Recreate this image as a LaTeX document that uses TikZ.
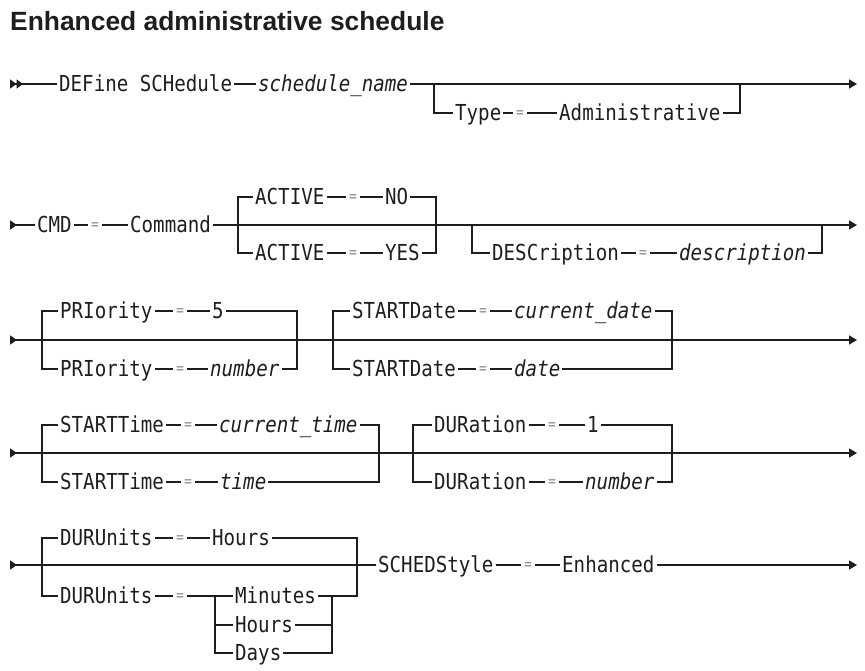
\documentclass[tikz,border=0pt]{standalone}
\usepackage{fontspec}
\usetikzlibrary{arrows.meta, positioning}
\newfontfamily\kwfamily[FakeStretch=0.87]{DejaVu Sans Mono}
\newfontfamily\headfamily{Liberation Sans}
\definecolor{ink}{HTML}{1E1E1E}
\definecolor{eqgray}{HTML}{8A8A8A}

\tikzset{
  kw/.style={font=\kwfamily\fontsize{22}{22}\selectfont, text=ink, inner xsep=2pt, inner ysep=0pt, text height=14pt, text depth=0pt, anchor=west},
  var/.style={kw, font=\kwfamily\itshape\fontsize{22}{22}\selectfont},
  eq/.style={font=\kwfamily\fontsize{15}{15}\selectfont, text=eqgray, inner xsep=3pt, inner ysep=0pt, text height=9.5pt, text depth=0pt, anchor=center},
  rail/.style={draw=ink, line width=1.5pt},
  go/.style={-{Triangle[length=8pt,width=9pt]}},
  come/.style={{Triangle[reversed,length=7pt,width=9pt]}-},
  both/.style={{Triangle[reversed,length=7pt,width=9pt]}-{Triangle[length=8pt,width=9pt]}},
}

\begin{document}
\begin{tikzpicture}[x=1pt, y=-1pt]
  \fill[white] (0,0) rectangle (865,670);
  \useasboundingbox (0,0) rectangle (865,670);

  \node[anchor=base west, inner sep=0pt, text=ink, font=\headfamily\bfseries\fontsize{26.4}{26.4}\selectfont] (title) at (10,30) {Enhanced administrative schedule};

  % row 1
  \coordinate (r1s) at (10,84);
  \coordinate (r1e) at (857,84);
  \coordinate (t1a) at (434,84);
  \coordinate (t1b) at (740,84);
  \node[kw] (define) at (57,84) {DEFine SCHedule};
  \node[var] (sname) at (256,84) {schedule\_name};
  \node[kw] (type) at (453,113) {Type};
  \node[eq] (typeeq) at (520,113) {=};
  \node[kw] (admin) at (557,113) {Administrative};
  \draw[rail, {Triangle[reversed,length=6.5pt,width=9pt] Triangle[reversed,length=6.5pt,width=9pt]}-] (r1s) -- (define);
  \draw[rail] (define) -- (sname);
  \draw[rail, go] (sname) -- (r1e);
  \draw[rail] (t1a) |- (type) -- (typeeq) -- (admin) -| (t1b);

  % row 2
  \coordinate (r2s) at (10,225);
  \coordinate (r2e) at (857,225);
  \coordinate (a2a) at (238,225);
  \coordinate (a2b) at (436,225);
  \coordinate (d2a) at (472,225);
  \coordinate (d2b) at (822,225);
  \node[kw] (cmd) at (35,225) {CMD};
  \node[eq] (cmdeq) at (95,225) {=};
  \node[kw] (command) at (128,225) {Command};
  \node[kw] (actno) at (253,197) {ACTIVE};
  \node[eq] (actnoeq) at (353,197) {=};
  \node[kw] (no) at (383,197) {NO};
  \node[kw] (actyes) at (253,253) {ACTIVE};
  \node[eq] (actyeseq) at (353,253) {=};
  \node[kw] (yes) at (383,253) {YES};
  \node[kw] (desc) at (490,253) {DESCription};
  \node[eq] (desceq) at (643,253) {=};
  \node[var] (descv) at (677,253) {description};
  \draw[rail, come] (r2s) -- (cmd);
  \draw[rail] (cmd) -- (cmdeq) -- (command);
  \draw[rail, go] (command) -- (r2e);
  \draw[rail] (a2a) |- (actno) -- (actnoeq) -- (no) -| (a2b);
  \draw[rail] (a2a) |- (actyes) -- (actyeseq) -- (yes) -| (a2b);
  \draw[rail] (d2a) |- (desc) -- (desceq) -- (descv) -| (d2b);

  % row 3
  \coordinate (r3s) at (10,340);
  \coordinate (r3e) at (857,340);
  \coordinate (p3a) at (42,340);
  \coordinate (p3b) at (297,340);
  \coordinate (s3a) at (333,340);
  \coordinate (s3b) at (672,340);
  \node[kw] (prifive) at (58,311) {PRIority};
  \node[eq] (prifiveeq) at (180,311) {=};
  \node[kw] (five) at (210,311) {5};
  \node[kw] (prinum) at (58,369) {PRIority};
  \node[eq] (prinumeq) at (180,369) {=};
  \node[var] (pnumber) at (208,369) {number};
  \node[kw] (sdcur) at (350,311) {STARTDate};
  \node[eq] (sdcureq) at (483,311) {=};
  \node[var] (curdate) at (512,311) {current\_date};
  \node[kw] (sddate) at (350,369) {STARTDate};
  \node[eq] (sddateeq) at (483,369) {=};
  \node[var] (date) at (512,369) {date};
  \draw[rail, both] (r3s) -- (r3e);
  \draw[rail] (p3a) |- (prifive) -- (prifiveeq) -- (five) -| (p3b);
  \draw[rail] (p3a) |- (prinum) -- (prinumeq) -- (pnumber) -| (p3b);
  \draw[rail] (s3a) |- (sdcur) -- (sdcureq) -- (curdate) -| (s3b);
  \draw[rail] (s3a) |- (sddate) -- (sddateeq) -- (date) -| (s3b);

  % row 4
  \coordinate (r4s) at (10,453);
  \coordinate (r4e) at (857,453);
  \coordinate (q4a) at (42,453);
  \coordinate (q4b) at (379,453);
  \coordinate (u4a) at (413,453);
  \coordinate (u4b) at (672,453);
  \node[kw] (stcur) at (58,425) {STARTTime};
  \node[eq] (stcureq) at (188,425) {=};
  \node[var] (curtime) at (217,425) {current\_time};
  \node[kw] (sttime) at (58,482) {STARTTime};
  \node[eq] (sttimeeq) at (188,482) {=};
  \node[var] (time) at (218,482) {time};
  \node[kw] (durone) at (432,425) {DURation};
  \node[eq] (duroneeq) at (552,425) {=};
  \node[kw] (one) at (585,425) {1};
  \node[kw] (durnum) at (432,482) {DURation};
  \node[eq] (durnumeq) at (552,482) {=};
  \node[var] (dnumber) at (583,482) {number};
  \draw[rail, both] (r4s) -- (r4e);
  \draw[rail] (q4a) |- (stcur) -- (stcureq) -- (curtime) -| (q4b);
  \draw[rail] (q4a) |- (sttime) -- (sttimeeq) -- (time) -| (q4b);
  \draw[rail] (u4a) |- (durone) -- (duroneeq) -- (one) -| (u4b);
  \draw[rail] (u4a) |- (durnum) -- (durnumeq) -- (dnumber) -| (u4b);

  % row 5
  \coordinate (r5s) at (10,565);
  \coordinate (r5e) at (857,565);
  \coordinate (v5a) at (42,565);
  \coordinate (v5b) at (357,565);
  \coordinate (m5a) at (215,596);
  \coordinate (m5b) at (332,596);
  \node[kw] (duhours) at (58,538) {DURUnits};
  \node[eq] (duhourseq) at (180,538) {=};
  \node[kw] (hours) at (210,538) {Hours};
  \node[kw] (dulist) at (58,596) {DURUnits};
  \node[eq] (dulisteq) at (180,596) {=};
  \node[kw] (minutes) at (233,596) {Minutes};
  \node[kw] (hourstoo) at (233,625) {Hours};
  \node[kw] (days) at (233,653) {Days};
  \node[kw] (sched) at (376,565) {SCHEDStyle};
  \node[eq] (schedeq) at (528,565) {=};
  \node[kw] (enhanced) at (560,565) {Enhanced};
  \draw[rail, come] (r5s) -- (sched);
  \draw[rail] (sched) -- (schedeq) -- (enhanced);
  \draw[rail, go] (enhanced) -- (r5e);
  \draw[rail] (v5a) |- (duhours) -- (duhourseq) -- (hours) -| (v5b);
  \draw[rail] (v5a) |- (dulist) -- (dulisteq) -- (m5a) -- (minutes) -- (m5b) -| (v5b);
  \draw[rail] (m5a) |- (hourstoo) -| (m5b);
  \draw[rail] (m5a) |- (days) -| (m5b);
\end{tikzpicture}
\end{document}
